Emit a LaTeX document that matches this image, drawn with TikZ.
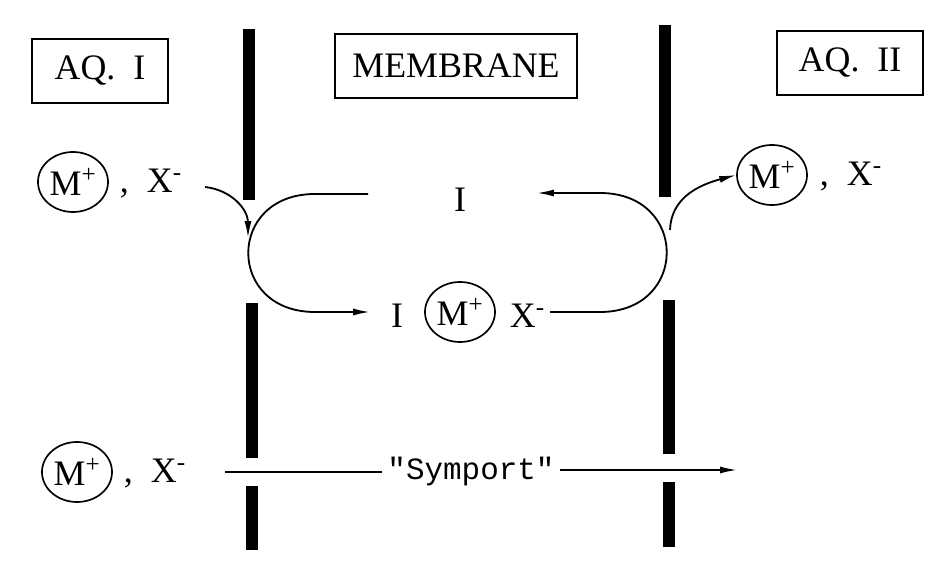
\documentclass[tikz,border=0pt]{standalone}
\usepackage{fontspec}
\setmainfont{Liberation Serif}
\setmonofont{Liberation Mono}
\usetikzlibrary{arrows.meta,shapes.geometric}
\tikzset{
  bar/.style={line width=8.5pt},
  flow/.style={line width=1.3pt},
  tip/.style={-{Latex[length=12pt,width=5pt]}},
  label/.style={draw,line width=1.3pt,minimum height=1.6cm,inner sep=0pt},
  ion/.style={draw,ellipse,line width=1.2pt,minimum width=1.75cm,minimum height=1.5cm,inner sep=0pt},
}
\begin{document}
\begin{tikzpicture}[x=0.025cm,y=-0.025cm,font=\fontsize{25.5}{30}\selectfont]
\useasboundingbox (0,0) rectangle (941,563);
% Membranwaende
\foreach \x/\a/\b in {249/29/200,252/303/458,252/486/550,665/25/197,669/300/454,669/482/547}
    \draw[bar] (\x,\a) -- (\x,\b);

% Kopfzeilen
\node[label,minimum width=3.4cm] (aqI) at (100,71) {AQ.\ \ I};
\node[label,minimum width=6.05cm] (membr) at (456,66) {MEMBRANE};
\node[label,minimum width=3.65cm] (aqII) at (850,63) {AQ.\ \ II};

% Ionen links und rechts
\node[ion] (mL) at (73,182) {M\textsuperscript{+}};
\node[anchor=west] (xL) at (115,184) {,\ \ X\textsuperscript{-}};
\node[ion] (mR) at (772,175) {M\textsuperscript{+}};
\node[anchor=west] (xR) at (815,177) {,\ \ X\textsuperscript{-}};

% Carrier
\node (iTop) at (460,200) {I};
\node (iBot) at (397,316) {I};
\node[ion] (mBot) at (460,312) {M\textsuperscript{+}};
\node[anchor=west] (xBot) at (505,316) {X\textsuperscript{-}};
\coordinate (tl) at (368,194);
\coordinate (bl) at (370,312);
\coordinate (tr) at (537,193);
\coordinate (br) at (550,312);
\coordinate (inL) at (205,187);
\coordinate (outR) at (670,230);
\draw[flow,tip] (tl) -- (315,194) .. controls (226,194) and (226,312) .. (315,312) -- (bl);
\draw[flow,tip] (br) -- (600,312) .. controls (689,312) and (689,193) .. (600,193) -- (tr);
\draw[flow,tip] (inL) .. controls (232,190) and (248,210) .. (248,238);
\draw[flow,tip] (outR) .. controls (671,200) and (695,186) .. (mR.west);

% Symport
\node[ion] (mS) at (77,472) {M\textsuperscript{+}};
\node[anchor=west] (xS) at (119,474) {,\ \ X\textsuperscript{-}};
\node[font=\fontsize{22}{26}\selectfont\ttfamily] (symp) at (471,472) {"Symport"};
\coordinate (sA) at (225,472);
\coordinate (sB) at (737,470);
\draw[flow] (sA) -- (sA -| symp.west);
\draw[flow,tip] (symp.east |- sB) -- (sB);
\end{tikzpicture}
\end{document}
